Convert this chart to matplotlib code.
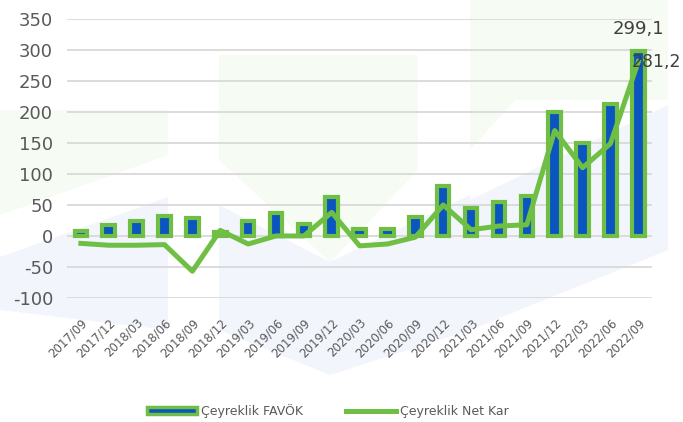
#!/usr/bin/env python3
"""
Quarterly FAVOK and net profit chart
"""
import matplotlib
matplotlib.use("Agg")
import matplotlib.pyplot as plt
from matplotlib.patches import Polygon, Patch
from matplotlib.lines import Line2D

# quarters
quarters = ["2017/09", "2017/12", "2018/03", "2018/06", "2018/09", "2018/12",
            "2019/03", "2019/06", "2019/09", "2019/12", "2020/03", "2020/06",
            "2020/09", "2020/12", "2021/03", "2021/06", "2021/09", "2021/12",
            "2022/03", "2022/06", "2022/09"]

# Çeyreklik FAVÖK (bars)
favok = [8, 17, 24, 32, 29, 6, 24, 37, 19, 63, 11, 11,
         31, 81, 45, 55, 64, 200, 150, 213, 299.1]

# Çeyreklik Net Kar (line)
net_kar = [-12, -15, -15, -14, -57, 9, -13, 0, 0, 38, -16, -13,
           -2, 50, 10, 16, 18, 170, 110, 149, 281.2]

yticks = [-100, -50, 0, 50, 100, 150, 200, 250, 300, 350]

green = "#6fbf45"
blue = "#0a55c0"
grey = "#595959"

fig = plt.figure(figsize=(6.83, 4.22), dpi=100)

# faint logo watermark in the background
def fpoly(pts, color):
    xy = [(x / 683, 1 - y / 422) for x, y in pts]
    fig.add_artist(Polygon(xy, closed=True, transform=fig.transFigure,
                           facecolor=color, edgecolor="none", zorder=0))

wm_green = "#f6fbf3"
wm_blue = "#f2f5fb"
fpoly([(0, 110), (168, 110), (168, 155), (0, 215)], wm_green)
fpoly([(0, 257), (168, 197), (168, 330), (0, 310)], wm_blue)
fpoly([(219, 55), (418, 55), (418, 170), (330, 262), (219, 160)], wm_green)
fpoly([(219, 205), (330, 262), (470, 195), (470, 330), (330, 375), (219, 330)], wm_blue)
fpoly([(470, 0), (668, 0), (668, 100), (515, 100), (470, 150)], wm_green)
fpoly([(470, 200), (668, 105), (668, 250), (470, 330)], wm_blue)

ax = fig.add_axes([0.098, 0.294, 0.857, 0.661])
ax.patch.set_alpha(0)

x = list(range(len(quarters)))
ax.bar(x, favok, width=0.45, color=blue, edgecolor=green, linewidth=3, zorder=2)
ax.plot(x, net_kar, color=green, linewidth=3.6, zorder=3, solid_joinstyle="round")

ax.set_xlim(-0.5, len(quarters) - 0.5)
ax.set_ylim(-100, 350)
ax.set_yticks(yticks)
ax.set_yticklabels([str(v) for v in yticks], fontsize=13, color=grey)
ax.set_xticks(x)
ax.set_xticklabels(quarters, rotation=45, ha="right", rotation_mode="anchor",
                   fontsize=8.5, color=grey)
ax.tick_params(axis="both", length=0)
ax.tick_params(axis="x", pad=13)
ax.tick_params(axis="y", pad=10)
ax.grid(axis="y", color="#d9d9d9", linewidth=1.3, zorder=0)
ax.set_axisbelow(True)
for s in ax.spines.values():
    s.set_visible(False)

# data labels for the last quarter
ax.annotate("299,1", (x[-1], favok[-1]), xytext=(0, 9), textcoords="offset points",
            ha="center", va="bottom", fontsize=13, color="#404040")
ax.annotate("281,2", (x[-1], net_kar[-1]), xytext=(-5, 0), textcoords="offset points",
            ha="left", va="center", fontsize=12.5, color="#404040")

handles = [Patch(facecolor=blue, edgecolor=green, linewidth=2.5),
           Line2D([0], [0], color=green, linewidth=3.6)]
fig.legend(handles, ["Çeyreklik FAVÖK", "Çeyreklik Net Kar"], loc="lower center",
           bbox_to_anchor=(0.48, -0.018), ncol=2, frameon=False, fontsize=9,
           handlelength=4, handleheight=0.5, columnspacing=3.5, handletextpad=0.3,
           labelcolor=grey)

fig.savefig("out.png", dpi=100)
